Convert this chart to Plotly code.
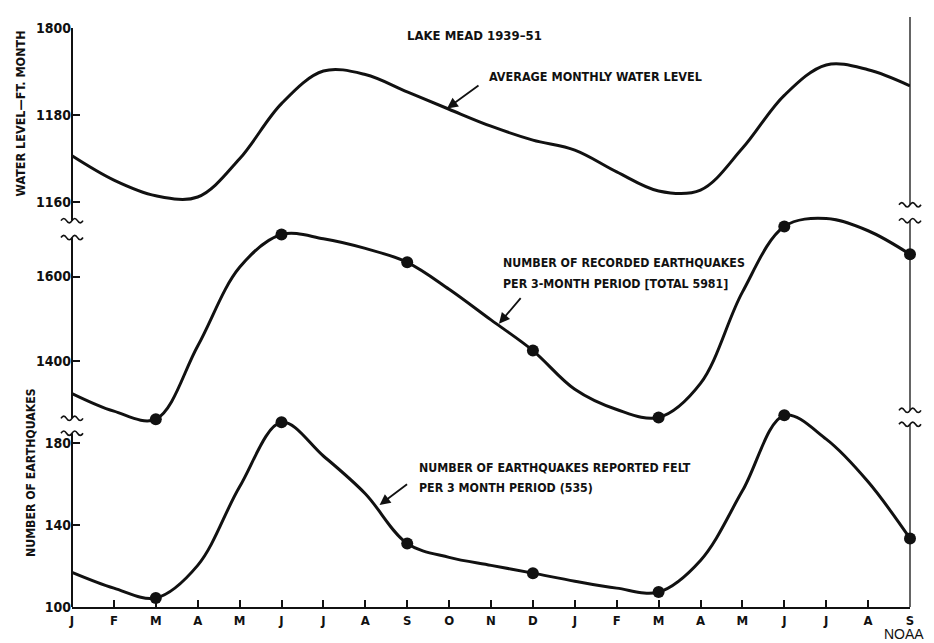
import plotly.graph_objects as go

# ---------------- data ----------------
months = list(range(21))
month_labels = ["J", "F", "M", "A", "M", "J", "J", "A", "S", "O", "N", "D",
                "J", "F", "M", "A", "M", "J", "J", "A", "S"]

# average monthly water level, ft
water_level = [1170.6, 1165.0, 1161.4, 1161.1, 1169.9, 1182.6, 1190.1, 1189.3,
               1185.3, 1181.3, 1177.4, 1174.2, 1171.9, 1166.9, 1162.5, 1162.7,
               1172.3, 1184.5, 1191.5, 1190.4, 1186.7]

# recorded earthquakes per 3-month period (smooth curve readings)
recorded = [1322, 1280, 1261, 1435, 1622, 1700, 1690, 1667, 1634, 1570, 1497,
            1424, 1332, 1284, 1265, 1346, 1563, 1719, 1738, 1709, 1653]

# earthquakes reported felt per 3-month period (smooth curve readings)
felt = [116.9, 109.2, 104.4, 120.3, 158.6, 190.0, 173.6, 155.2, 131.0, 124.2,
        120.3, 116.5, 112.6, 109.2, 107.3, 122.7, 156.6, 193.4, 181.8, 161.0, 133.4]

# months at which the 3-month totals are plotted as dots
dot_months = [2, 5, 8, 11, 14, 17, 20]

level_ticks = [1160, 1180, 1200]
level_ticktext = ["1160", "1180", "1800"]
recorded_ticks = [1400, 1600]
felt_ticks = [100, 140, 180]

# ---------------- layout geometry (reference pixels) ----------------
W, H = 934, 643
OFF = 8                      # page body margin of the html page
L, R, T, B = 72, 910, 24, 607


def px(x):
    return (x - L) / (R - L)


def py(y):
    return (B - y) / (B - T)


def panel(top_px, bot_px, ref_val, ref_px, px_per_unit):
    dom = [py(bot_px), py(top_px)]
    rng = [ref_val - (bot_px - ref_px) / px_per_unit,
           ref_val + (ref_px - top_px) / px_per_unit]
    return dom, rng


dom1, rng1 = panel(24, 218, 1200, 24, 4.375)
dom2, rng2 = panel(200, 425, 1400, 359, 0.4235)
dom3, rng3 = panel(400, 607, 100, 607, 2.066)

FONT = "DejaVu Sans Condensed, Liberation Sans Narrow, Arial Narrow, DejaVu Sans, sans-serif"
INK = "#111111"

fig = go.Figure()


def add_series(vals, yax):
    fig.add_trace(go.Scatter(x=months, y=vals, mode="lines", yaxis=yax,
                             line=dict(color=INK, width=3, shape="spline", smoothing=1.0),
                             hoverinfo="skip", showlegend=False))


add_series(water_level, "y3")
add_series(recorded, "y2")
add_series(felt, "y")

fig.add_trace(go.Scatter(x=dot_months, y=[recorded[m] for m in dot_months], mode="markers",
                         yaxis="y2", marker=dict(color=INK, size=12), cliponaxis=False,
                         showlegend=False))
fig.add_trace(go.Scatter(x=dot_months, y=[felt[m] for m in dot_months], mode="markers",
                         yaxis="y", marker=dict(color=INK, size=12), cliponaxis=False,
                         showlegend=False))

tickfont = dict(family=FONT, size=14, color=INK, weight="bold")
xtickfont = dict(family=FONT, size=13, color=INK, weight="bold")
common_y = dict(showgrid=False, zeroline=False, showline=False, ticks="inside",
                ticklen=8, tickwidth=1.5, tickcolor=INK, tickfont=tickfont, anchor="x",
                fixedrange=True)

fig.update_layout(
    width=W - OFF, height=H - OFF,
    margin=dict(l=L - OFF, r=(W - OFF) - (R - OFF), t=T - OFF, b=(H - OFF) - (B - OFF)),
    paper_bgcolor="white", plot_bgcolor="rgba(0,0,0,0)",
    xaxis=dict(range=[0, 20], tickvals=months, ticktext=month_labels, showgrid=False,
               zeroline=False, showline=True, linewidth=2, linecolor=INK, ticks="inside",
               ticklen=7, tickwidth=1.5, tickcolor=INK, tickfont=xtickfont, anchor="y",
               fixedrange=True),
    yaxis=dict(domain=dom3, range=rng3, tickvals=felt_ticks, **common_y),
    yaxis2=dict(domain=dom2, range=rng2, tickvals=recorded_ticks, **common_y),
    yaxis3=dict(domain=dom1, range=rng1, tickvals=level_ticks, ticktext=level_ticktext,
                **common_y),
)

# ---------------- axis lines with break marks ----------------
shapes = []


def vseg(xp, y0, y1, w):
    shapes.append(dict(type="line", xref="paper", yref="paper", x0=px(xp), x1=px(xp),
                       y0=py(y0), y1=py(y1), line=dict(color=INK, width=w), layer="above"))


def squiggle(xp, yp, w=22, a=2.2, lw=1.6):
    x0 = xp - w / 2
    path = f"M {px(x0):.5f},{py(yp):.5f}"
    for i in range(4):
        xc = x0 + (i + 0.5) * w / 4
        xe = x0 + (i + 1) * w / 4
        yc = yp - 2 * a if i % 2 == 0 else yp + 2 * a
        path += f" Q {px(xc):.5f},{py(yc):.5f} {px(xe):.5f},{py(yp):.5f}"
    shapes.append(dict(type="path", xref="paper", yref="paper", path=path,
                       line=dict(color=INK, width=lw), layer="above"))


for a, b in [(24, 218), (235, 417), (432, 607)]:
    vseg(L, a, b, 2)
for yb in [218, 235, 417, 432]:
    squiggle(L, yb)
for a, b in [(13, 202), (218, 409), (423, 607)]:
    vseg(R, a, b, 1.3)
for yb in [202, 218, 409, 423]:
    squiggle(R, yb)
fig.update_layout(shapes=shapes)

# ---------------- text ----------------
anns = []


def label(text, xp, yp, size=12.3, anchor="left", angle=0, family=FONT, weight="bold",
          yanchor="middle", pad=1):
    anns.append(dict(text=text, xref="paper", yref="paper", x=px(xp), y=py(yp),
                     xanchor=anchor, yanchor=yanchor, showarrow=False, textangle=angle,
                     borderpad=pad,
                     font=dict(family=family, size=size, color=INK, weight=weight)))


def arrow(tip_x, tip_y, yref, ax, ay):
    anns.append(dict(text="", x=tip_x, y=tip_y, xref="x", yref=yref, ax=ax, ay=ay,
                     showarrow=True, arrowhead=2, arrowsize=1.2, arrowwidth=1.8,
                     arrowcolor=INK))


label("LAKE MEAD 1939–51", 405, 32, size=13)
label("AVERAGE MONTHLY WATER LEVEL", 487, 73, size=12.5)
label("NUMBER OF RECORDED EARTHQUAKES", 501, 261)
label("PER 3-MONTH PERIOD [TOTAL 5981]", 501, 282)
label("NUMBER OF EARTHQUAKES REPORTED FELT", 417, 467)
label("PER 3 MONTH PERIOD (535)", 417, 487)
label("WATER LEVEL—FT. MONTH", 20, 110, size=12.5, anchor="center", angle=-90)
label("NUMBER OF EARTHQUAKES", 31, 472, size=12.2, anchor="center", angle=-90)
label("NOAA", 925, 643, size=14, anchor="right", yanchor="bottom", pad=0,
      family="Liberation Sans, Arial, sans-serif", weight="normal")

arrow(8.95, 1181.5, "y3", 33, -24)
arrow(10.19, 1488, "y2", 23, -27)
arrow(7.34, 149.7, "y", 29, -22)

fig.update_layout(annotations=anns)

fig.write_html("out.html")
